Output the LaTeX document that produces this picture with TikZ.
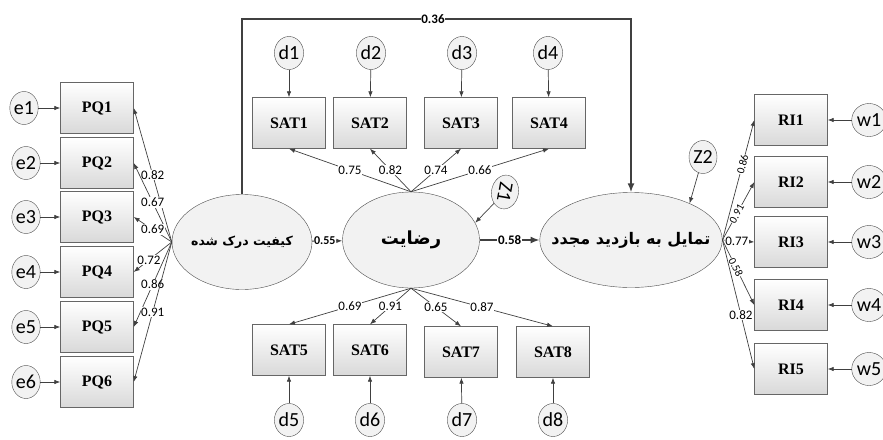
\documentclass[tikz,border=0pt]{standalone}
\usepackage{fontspec}
\setmainfont{Liberation Serif}
\newfontfamily\labfont{Carlito}
\newfontfamily\farsi[Script=Arabic]{DejaVu Sans}
\TeXXeTstate=1
\usetikzlibrary{shapes.geometric,arrows.meta}

\begin{document}
\begin{tikzpicture}[x=1pt, y=-1pt,
  obs/.style={rectangle, draw=black!60, top color=white, bottom color=black!15, minimum width=73pt, minimum height=51pt, inner sep=0pt, font=\bfseries\fontsize{16}{16}\selectfont},
  err/.style={ellipse, draw=black!70, fill=black!5, minimum width=28pt, minimum height=33pt, inner sep=0pt, font=\labfont\fontsize{20}{20}\selectfont},
  lat/.style={ellipse, draw=black!70, fill=black!5, inner xsep=-15pt, inner ysep=0pt, font=\farsi\bfseries\fontsize{16}{16}\selectfont},
  arr/.style={draw=black!75, line width=0.7pt, -{Latex[length=6pt,width=4.5pt]}},
  bigarr/.style={draw=black!75, line width=1.6pt, -{Latex[length=9pt,width=7pt]}},
  lab/.style={fill=white, inner sep=0.6pt, font=\labfont\fontsize{13}{13}\selectfont},
  sloplab/.style={fill=white, inner sep=0.3pt, sloped, font=\labfont\fontsize{11}{11}\selectfont},
  boldlab/.style={fill=white, inner sep=0.6pt, font=\labfont\bfseries\fontsize{13}{13}\selectfont}]

\useasboundingbox (0,0) rectangle (883,439);

\node (pq) [lat, minimum width=140pt, minimum height=95pt] at (242,242) {\fontsize{12.5}{12.5}\selectfont\beginR کیفیت درک شده\endR};
\node (sat) [lat, minimum width=137pt, minimum height=96pt] at (411,240) {\fontsize{18}{18}\selectfont\beginR رضایت\endR};
\node (ri) [lat, minimum width=176pt, minimum height=95pt] at (631,240) {\beginR تمایل به بازدید مجدد\endR};

\node (pq1) [obs] at (97,108) {PQ1};
\node (pq2) [obs] at (97,163) {PQ2};
\node (pq3) [obs] at (97,217) {PQ3};
\node (pq4) [obs] at (97,272) {PQ4};
\node (pq5) [obs] at (97,327) {PQ5};
\node (pq6) [obs] at (97,382) {PQ6};
\node (e1) [err] at (24,108) {e1};
\node (e2) [err] at (26,163) {e2};
\node (e3) [err] at (26,217) {e3};
\node (e4) [err] at (26,272) {e4};
\node (e5) [err] at (26,327) {e5};
\node (e6) [err] at (26,382) {e6};

\node (sat1) [obs] at (289,123) {SAT1};
\node (sat2) [obs] at (370,123) {SAT2};
\node (sat3) [obs] at (461,123) {SAT3};
\node (sat4) [obs] at (549,123) {SAT4};
\node (d1) [err] at (289,53) {d1};
\node (d2) [err] at (371,53) {d2};
\node (d3) [err] at (462,53) {d3};
\node (d4) [err] at (548,53) {d4};

\node (sat5) [obs] at (289,350) {SAT5};
\node (sat6) [obs] at (370,350) {SAT6};
\node (sat7) [obs] at (461,352) {SAT7};
\node (sat8) [obs] at (553,352) {SAT8};
\node (d5) [err] at (289,420) {d5};
\node (d6) [err] at (370,420) {d6};
\node (d7) [err] at (462,420) {d7};
\node (d8) [err] at (553,420) {d8};

\node (ri1) [obs] at (791,120) {RI1};
\node (ri2) [obs] at (791,182) {RI2};
\node (ri3) [obs] at (791,242) {RI3};
\node (ri4) [obs] at (791,305) {RI4};
\node (ri5) [obs] at (791,369) {RI5};
\node (w1) [err] at (869,120) {w1};
\node (w2) [err] at (869,182) {w2};
\node (w3) [err] at (869,242) {w3};
\node (w4) [err] at (869,305) {w4};
\node (w5) [err] at (869,369) {w5};

\node (z1) [err, rotate=-100, minimum width=34pt, minimum height=27pt] at (505,192) {Z1};
\node (z2) [err] at (703,157) {Z2};
\coordinate (top) at (433,19);

\draw [arr] (e1) -- (pq1);
\draw [arr] (e2) -- (pq2);
\draw [arr] (e3) -- (pq3);
\draw [arr] (e4) -- (pq4);
\draw [arr] (e5) -- (pq5);
\draw [arr] (e6) -- (pq6);
\draw [arr] (pq.west) -- node [lab] {0.82} (pq1.east);
\draw [arr] (pq.west) -- node [lab] {0.67} (pq2.east);
\draw [arr] (pq.west) -- node [lab] {0.69} (pq3.east);
\draw [arr] (pq.west) -- node [lab, pos=0.6] {0.72} (pq4.east);
\draw [arr] (pq.west) -- node [lab] {0.86} (pq5.east);
\draw [arr] (pq.west) -- node [lab] {0.91} (pq6.east);

\draw [arr] (d1) -- (sat1);
\draw [arr] (d2) -- (sat2);
\draw [arr] (d3) -- (sat3);
\draw [arr] (d4) -- (sat4);
\draw [arr] (sat.north) -- node [lab] {0.75} (sat1.south);
\draw [arr] (sat.north) -- node [lab] {0.82} (sat2.south);
\draw [arr] (sat.north) -- node [lab] {0.74} (sat3.south);
\draw [arr] (sat.north) -- node [lab] {0.66} (sat4.south);

\draw [arr] (d5) -- (sat5);
\draw [arr] (d6) -- (sat6);
\draw [arr] (d7) -- (sat7);
\draw [arr] (d8) -- (sat8);
\draw [arr] (sat.south) -- node [lab] {0.69} (sat5.north);
\draw [arr] (sat.south) -- node [lab] {0.91} (sat6.north);
\draw [arr] (sat.south) -- node [lab] {0.65} (sat7.north);
\draw [arr] (sat.south) -- node [lab] {0.87} (sat8.north);

\draw [arr] (w1) -- (ri1);
\draw [arr] (w2) -- (ri2);
\draw [arr] (w3) -- (ri3);
\draw [arr] (w4) -- (ri4);
\draw [arr] (w5) -- (ri5);
\draw [arr] (ri.east) -- node [sloplab, pos=0.63] {0.86} (ri1.west);
\draw [arr] (ri.east) -- node [sloplab, pos=0.45] {0.91} (ri2.west);
\draw [arr] (ri.east) -- node [lab, pos=0.45] {0.77} (ri3.west);
\draw [arr] (ri.east) -- node [sloplab, pos=0.42] {0.58} (ri4.west);
\draw [arr] (ri.east) -- node [lab, pos=0.58] {0.82} (ri5.west);

\draw [arr] (z1) -- (sat.15);
\draw [arr] (z2) -- (ri.32);
\draw [arr, line width=1pt] (pq) -- node [boldlab, pos=0.42, inner sep=0.2pt, font=\labfont\bfseries\fontsize{12}{12}\selectfont] {0.55} (sat);
\draw [bigarr] (sat) -- node [boldlab] {0.58} (ri);
\draw [bigarr] (pq.north) |- (top) node [boldlab] {0.36} -| (ri.north);

\end{tikzpicture}
\end{document}
